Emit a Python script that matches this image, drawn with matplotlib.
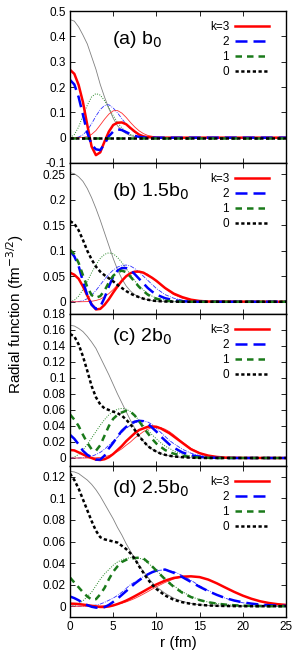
import matplotlib
matplotlib.use("Agg")
import matplotlib.pyplot as plt
from matplotlib.ticker import FuncFormatter, MultipleLocator

# ---------------- data ----------------
# panel (a) b0
A_R = [0, 0.5, 1, 1.5, 2, 2.5, 3, 3.5, 4, 4.5, 5, 5.5, 6, 6.5, 7, 7.5, 8, 8.5, 9, 10, 11, 25]
A_K3 = [0.268, 0.252, 0.208, 0.14, 0.05, -0.035, -0.069, -0.058, -0.015, 0.024, 0.05, 0.059, 0.06, 0.053, 0.038, 0.024, 0.012, 0.005, 0.002, 0, 0, 0]
A_K2 = [0.228, 0.21, 0.16, 0.09, 0.02, -0.028, -0.046, -0.049, -0.025, 0.006, 0.024, 0.033, 0.03, 0.022, 0.014, 0.007, 0.003, 0.001, 0, 0, 0, 0]
A_K1 = [0] * 22
A_K0 = [0] * 22
A_T0 = [0.466, 0.46, 0.437, 0.405, 0.37, 0.32, 0.27, 0.21, 0.16, 0.115, 0.077, 0.047, 0.028, 0.016, 0.008, 0.004, 0.002, 0.001, 0, 0, 0, 0]
A_T1 = [0, 0.012, 0.042, 0.088, 0.128, 0.161, 0.174, 0.168, 0.146, 0.117, 0.087, 0.06, 0.038, 0.023, 0.013, 0.007, 0.004, 0.002, 0.001, 0, 0, 0]
A_T2 = [0, 0.0002, 0.0025, 0.011, 0.029, 0.055, 0.085, 0.111, 0.127, 0.13, 0.117, 0.098, 0.075, 0.053, 0.034, 0.021, 0.012, 0.006, 0.003, 0.001, 0, 0]
A_T3 = [0, 0, 0.0001, 0.0007, 0.0042, 0.013, 0.028, 0.05, 0.073, 0.093, 0.106, 0.107, 0.097, 0.08, 0.06, 0.042, 0.027, 0.016, 0.009, 0.002, 0, 0]

# panel (b) 1.5b0
B_R = [0, 0.5, 1, 1.5, 2, 2.5, 3, 3.5, 4, 4.5, 5, 5.5, 6, 6.5, 7, 7.5, 8, 8.5, 9, 9.5, 10, 11, 12, 13, 14, 15, 16, 25]
B_K3 = [0.057, 0.053, 0.045, 0.03, 0.012, -0.005, -0.015, -0.014, -0.006, 0.005, 0.018, 0.03, 0.041, 0.05, 0.056, 0.059, 0.059, 0.057, 0.052, 0.047, 0.041, 0.027, 0.016, 0.009, 0.004, 0.0015, 0.0005, 0]
B_K2 = [0.1, 0.089, 0.07, 0.04, 0.013, -0.006, -0.014, -0.01, 0.008, 0.03, 0.049, 0.061, 0.066, 0.066, 0.062, 0.054, 0.045, 0.036, 0.027, 0.02, 0.014, 0.007, 0.003, 0.001, 0.0003, 0, 0, 0]
B_K1 = [0.102, 0.093, 0.076, 0.052, 0.029, 0.013, 0.008, 0.011, 0.022, 0.038, 0.051, 0.058, 0.061, 0.058, 0.049, 0.039, 0.029, 0.021, 0.014, 0.009, 0.006, 0.002, 0.0007, 0.0002, 0, 0, 0, 0]
B_K0 = [0.158, 0.153, 0.14, 0.121, 0.1, 0.083, 0.069, 0.059, 0.052, 0.046, 0.04, 0.033, 0.027, 0.021, 0.016, 0.012, 0.009, 0.006, 0.004, 0.0025, 0.0015, 0.0005, 0.0002, 0, 0, 0, 0, 0]
B_T0 = [0.253, 0.251, 0.245, 0.236, 0.222, 0.204, 0.183, 0.16, 0.135, 0.11, 0.085, 0.063, 0.045, 0.031, 0.021, 0.014, 0.009, 0.006, 0.004, 0.002, 0.001, 0.0003, 0, 0, 0, 0, 0, 0]
B_T1 = [0, 0.003, 0.011, 0.024, 0.04, 0.057, 0.072, 0.085, 0.093, 0.096, 0.094, 0.087, 0.077, 0.065, 0.053, 0.041, 0.031, 0.023, 0.016, 0.011, 0.007, 0.003, 0.001, 0, 0, 0, 0, 0]
B_T2 = [0, 0, 0.0004, 0.002, 0.006, 0.013, 0.022, 0.033, 0.044, 0.054, 0.062, 0.068, 0.071, 0.072, 0.07, 0.065, 0.058, 0.05, 0.042, 0.034, 0.026, 0.014, 0.007, 0.003, 0.001, 0, 0, 0]
B_T3 = [0, 0, 0, 0.0001, 0.0003, 0.001, 0.0025, 0.005, 0.0099, 0.016, 0.024, 0.033, 0.042, 0.05, 0.056, 0.059, 0.059, 0.057, 0.054, 0.047, 0.04, 0.026, 0.014, 0.007, 0.003, 0.001, 0, 0]

# panel (c) 2b0
C_R = [0, 0.5, 1, 1.5, 2, 2.5, 3, 3.5, 4, 4.5, 5, 5.5, 6, 6.5, 7, 7.5, 8, 8.5, 9, 9.5, 10, 10.5, 11, 11.5, 12, 13, 14, 15, 16, 17, 18, 20, 25]
C_K3 = [0.01, 0.0095, 0.007, 0.0045, 0.002, 0, -0.002, -0.0025, -0.0015, 0.001, 0.005, 0.01, 0.015, 0.021, 0.026, 0.031, 0.035, 0.037, 0.039, 0.0395, 0.039, 0.037, 0.034, 0.031, 0.027, 0.019, 0.011, 0.006, 0.003, 0.0013, 0.0005, 0.0001, 0]
C_K2 = [0.029, 0.024, 0.017, 0.009, 0.004, 0.001, -0.002, -0.002, 0.003, 0.012, 0.019, 0.027, 0.034, 0.039, 0.043, 0.0455, 0.0465, 0.046, 0.043, 0.038, 0.033, 0.027, 0.022, 0.017, 0.013, 0.007, 0.0035, 0.0015, 0.0006, 0.0002, 0, 0, 0]
C_K1 = [0.0545, 0.048, 0.04, 0.029, 0.019, 0.011, 0.009, 0.016, 0.028, 0.04, 0.049, 0.054, 0.057, 0.059, 0.058, 0.053, 0.046, 0.038, 0.031, 0.024, 0.018, 0.014, 0.01, 0.0075, 0.0055, 0.0028, 0.0013, 0.0005, 0.0002, 0, 0, 0, 0]
C_K0 = [0.155, 0.152, 0.142, 0.127, 0.109, 0.09, 0.076, 0.067, 0.062, 0.06, 0.058, 0.056, 0.053, 0.048, 0.042, 0.035, 0.027, 0.021, 0.015, 0.011, 0.008, 0.0055, 0.004, 0.0028, 0.002, 0.001, 0.0004, 0.0001, 0, 0, 0, 0, 0]
C_T0 = [0.166, 0.165, 0.162, 0.158, 0.152, 0.145, 0.137, 0.126, 0.115, 0.104, 0.092, 0.08, 0.069, 0.058, 0.047, 0.037, 0.028, 0.021, 0.015, 0.011, 0.008, 0.0055, 0.0038, 0.0026, 0.0018, 0.0008, 0.0003, 0.0001, 0, 0, 0, 0, 0]
C_T1 = [0, 0.0012, 0.0045, 0.01, 0.017, 0.025, 0.033, 0.041, 0.048, 0.054, 0.058, 0.061, 0.062, 0.061, 0.058, 0.053, 0.047, 0.041, 0.035, 0.029, 0.024, 0.019, 0.015, 0.012, 0.009, 0.005, 0.0025, 0.0012, 0.0005, 0.0002, 0, 0, 0]
C_T2 = [0, 0, 0, 0.0003, 0.001, 0.002, 0.0043, 0.007, 0.011, 0.016, 0.021, 0.026, 0.032, 0.037, 0.041, 0.044, 0.0458, 0.046, 0.045, 0.042, 0.037, 0.032, 0.027, 0.022, 0.018, 0.011, 0.006, 0.003, 0.0015, 0.0006, 0.0002, 0, 0]
C_T3 = [0, 0, 0, 0, 0, 0.0001, 0.0003, 0.0007, 0.0015, 0.003, 0.005, 0.008, 0.0115, 0.016, 0.02, 0.025, 0.029, 0.033, 0.036, 0.038, 0.039, 0.038, 0.036, 0.033, 0.029, 0.02, 0.012, 0.0065, 0.003, 0.0013, 0.0005, 0.0001, 0]

# panel (d) 2.5b0
D_R = [0, 0.5, 1, 1.5, 2, 2.5, 3, 3.5, 4, 4.5, 5, 5.5, 6, 6.5, 7, 7.5, 8, 8.5, 9, 9.5, 10, 11, 12, 13, 14, 15, 16, 17, 18, 19, 20, 21, 22, 23, 24, 25]
D_K3 = [0.0024, 0.0023, 0.002, 0.0015, 0.001, 0.0004, -0.0002, -0.0007, -0.0007, -0.0002, 0.0007, 0.002, 0.0035, 0.0052, 0.0072, 0.0093, 0.0115, 0.0137, 0.016, 0.0182, 0.0202, 0.0237, 0.0262, 0.0274, 0.0277, 0.027, 0.0247, 0.0212, 0.0172, 0.0133, 0.0098, 0.0069, 0.0046, 0.003, 0.0019, 0.0012]
D_K2 = [0.009, 0.0075, 0.0055, 0.003, 0.001, -0.0005, -0.0013, -0.0015, -0.0008, 0.0012, 0.004, 0.007, 0.0105, 0.014, 0.0175, 0.021, 0.024, 0.027, 0.0295, 0.0315, 0.033, 0.034, 0.031, 0.027, 0.0225, 0.018, 0.014, 0.0105, 0.0075, 0.0053, 0.0036, 0.0024, 0.0015, 0.0009, 0.0005, 0.0003]
D_K1 = [0.0266, 0.022, 0.0175, 0.013, 0.009, 0.0062, 0.0065, 0.011, 0.017, 0.025, 0.032, 0.037, 0.041, 0.043, 0.044, 0.0447, 0.045, 0.0443, 0.041, 0.037, 0.033, 0.025, 0.018, 0.0125, 0.0085, 0.0057, 0.0037, 0.0024, 0.0015, 0.0009, 0.0005, 0.0003, 0.0001, 0, 0, 0]
D_K0 = [0.123, 0.117, 0.109, 0.099, 0.089, 0.079, 0.07, 0.064, 0.062, 0.061, 0.06, 0.059, 0.056, 0.053, 0.049, 0.044, 0.037, 0.031, 0.025, 0.02, 0.016, 0.01, 0.006, 0.0037, 0.0022, 0.0013, 0.0007, 0.0004, 0.0002, 0.0001, 0, 0, 0, 0, 0, 0]
D_T0 = [0.125, 0.1245, 0.123, 0.12, 0.117, 0.113, 0.108, 0.102, 0.095, 0.088, 0.081, 0.073, 0.066, 0.058, 0.051, 0.044, 0.038, 0.032, 0.027, 0.022, 0.018, 0.012, 0.0075, 0.0045, 0.0026, 0.0014, 0.0007, 0.0003, 0.0001, 0, 0, 0, 0, 0, 0, 0]
D_T1 = [0, 0.0006, 0.0023, 0.005, 0.0088, 0.013, 0.019, 0.025, 0.03, 0.034, 0.038, 0.041, 0.043, 0.0443, 0.045, 0.045, 0.0445, 0.0433, 0.04, 0.037, 0.033, 0.026, 0.019, 0.0135, 0.009, 0.006, 0.0038, 0.0025, 0.0015, 0.0009, 0.0005, 0.0003, 0.0002, 0.0001, 0, 0]
D_T2 = [0, 0, 0, 0.0001, 0.0003, 0.0006, 0.0011, 0.002, 0.0036, 0.0055, 0.0075, 0.01, 0.013, 0.0165, 0.02, 0.0225, 0.025, 0.0275, 0.0295, 0.0315, 0.033, 0.0338, 0.0322, 0.0285, 0.024, 0.019, 0.0145, 0.0105, 0.0073, 0.005, 0.0032, 0.002, 0.0012, 0.0007, 0.0004, 0.0002]
D_T3 = [0, 0, 0, 0, 0, 0, 0.0001, 0.0002, 0.0004, 0.0007, 0.0012, 0.0019, 0.0028, 0.004, 0.0055, 0.0072, 0.0092, 0.0113, 0.0135, 0.0158, 0.018, 0.022, 0.0252, 0.0272, 0.0277, 0.027, 0.0247, 0.0212, 0.0172, 0.0133, 0.0098, 0.0069, 0.0046, 0.003, 0.0019, 0.0012]

PANEL_LABELS = ["(a) b$_0$", "(b) 1.5b$_0$", "(c) 2b$_0$", "(d) 2.5b$_0$"]
LEGEND_LABELS = ["k=3", "2", "1", "0"]
X_TICKS = [0, 5, 10, 15, 20, 25]

panels = [
    (A_R, A_K3, A_K2, A_K1, A_K0, A_T0, A_T1, A_T2, A_T3),
    (B_R, B_K3, B_K2, B_K1, B_K0, B_T0, B_T1, B_T2, B_T3),
    (C_R, C_K3, C_K2, C_K1, C_K0, C_T0, C_T1, C_T2, C_T3),
    (D_R, D_K3, D_K2, D_K1, D_K0, D_T0, D_T1, D_T2, D_T3),
]
ylims = [(-0.1, 0.5), (-0.024, 0.272), (-0.01, 0.18), (-0.01, 0.13)]
ysteps = [0.1, 0.05, 0.02, 0.02]
label_pos = [(0.195, 0.81), (0.195, 0.81), (0.195, 0.85), (0.195, 0.85)]

RED = "#ff0000"
BLUE = "#0000ff"
GREEN = "#1a7a1a"
BLACK = "#000000"

plt.rcParams["font.family"] = ["Liberation Sans", "DejaVu Sans"]

fig = plt.figure(figsize=(3.0, 6.64), dpi=100)
left, width = 70 / 300, 216 / 300
tops = [11, 163, 314, 466]
bots = [163, 314, 466, 617]

fmt = FuncFormatter(lambda v, p: ("%g" % round(v, 4)))

for i, (R, K3, K2, K1, K0, T0, T1, T2, T3) in enumerate(panels):
    b = 1 - bots[i] / 664
    h = (bots[i] - tops[i]) / 664
    ax = fig.add_axes([left, b, width, h])
    # thin component curves
    ax.plot(R, T0, color="#808080", lw=0.6)
    ax.plot(R, T1, color="#2a8a2a", lw=0.7, linestyle=(0, (1, 1.5)))
    ax.plot(R, T2, color="#3030ff", lw=0.6, linestyle=(0, (5, 1.5, 1, 1.5)))
    ax.plot(R, T3, color="#ff3030", lw=0.6)
    # thick curves
    lw = 1.8
    h3, = ax.plot(R, K3, color=RED, lw=lw, label=LEGEND_LABELS[0])
    h2, = ax.plot(R, K2, color=BLUE, lw=lw, dashes=(4.8, 2.4), label=LEGEND_LABELS[1])
    h1, = ax.plot(R, K1, color=GREEN, lw=lw, dashes=(2.6, 2.0), label=LEGEND_LABELS[2])
    h0, = ax.plot(R, K0, color=BLACK, lw=lw, dashes=(1.3, 1.0), label=LEGEND_LABELS[3])

    ax.set_xlim(0, 25)
    ax.set_ylim(*ylims[i])
    ax.set_xticks(X_TICKS)
    ax.yaxis.set_major_locator(MultipleLocator(ysteps[i]))
    ax.yaxis.set_major_formatter(fmt)
    ax.tick_params(direction="in", length=3.5, width=0.6, top=True, right=True,
                   labelsize=8.5, pad=3)
    if i < 3:
        ax.tick_params(labelbottom=False)
    for s in ax.spines.values():
        s.set_linewidth(1.0)

    ax.text(label_pos[i][0], label_pos[i][1], PANEL_LABELS[i], transform=ax.transAxes,
            fontsize=14, ha="left", va="center")

    leg = ax.legend(handles=[h3, h2, h1, h0], loc="upper right", frameon=False,
                    markerfirst=False, fontsize=8.5, handlelength=2.9,
                    handletextpad=0.5, labelspacing=0.26,
                    bbox_to_anchor=(0.955, 0.98), borderaxespad=0.2)
    if i == 3:
        ax.set_xlabel("r (fm)", fontsize=11, labelpad=2)

fig.text(0.05, 1 - 314 / 664, "Radial function (fm$^{-3/2}$)", rotation=90,
         ha="center", va="center", fontsize=11)

fig.savefig("out.png", dpi=100)
